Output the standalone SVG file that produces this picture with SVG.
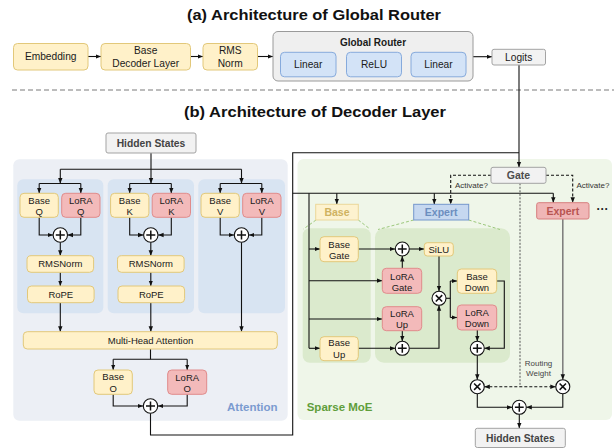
<svg xmlns="http://www.w3.org/2000/svg" width="614" height="448" viewBox="0 0 614 448">
  <defs>
    <marker id="arr" viewBox="0 0 10 10" refX="10" refY="5" markerWidth="5.5" markerHeight="5.5" markerUnits="userSpaceOnUse" orient="auto-start-reverse">
      <path d="M0,1 L10,5 L0,9 z" fill="#111"/>
    </marker>
    <style>
      text { font-family: "Liberation Sans", Arial, sans-serif; fill: #1a1a1a; }
      .t { font-size: 9.5px; text-anchor: middle; }
      .t10 { font-size: 10.2px; text-anchor: middle; }
      .title { font-size: 15px; font-weight: bold; text-anchor: middle; fill: #111; }
      .b { font-weight: bold; }
      .yel { fill: #fff1c9; stroke: #e2c87a; stroke-width: 1; }
      .red { fill: #f3baba; stroke: #e08b8b; stroke-width: 1; }
      .blu { fill: #d3e3f7; stroke: #86aadc; stroke-width: 1; }
      .gry { fill: #f2f2f2; stroke: #a3a3a3; stroke-width: 1; }
      .ln { fill: none; stroke: #111; stroke-width: 1.1; }
      .la { fill: none; stroke: #111; stroke-width: 1.1; marker-end: url(#arr); }
      .dash { fill: none; stroke: #111; stroke-width: 1.1; stroke-dasharray: 3 2; }
      .gdash { fill: none; stroke: #9cc87c; stroke-width: 1; stroke-dasharray: 3 2; }
      .op { fill: #fff; stroke: #111; stroke-width: 1.1; }
      .sym { stroke: #111; stroke-width: 1.5; fill: none; }
    </style>
  </defs>

  <!-- Section titles and separator -->
  <text class="title" x="314" y="19.5" textLength="254" lengthAdjust="spacingAndGlyphs">(a) Architecture of Global Router</text>
  <text class="title" x="315" y="117" textLength="262" lengthAdjust="spacingAndGlyphs">(b) Architecture of Decoder Layer</text>
  <line x1="12" y1="90" x2="614" y2="90" stroke="#a6a6a6" stroke-width="1.5" stroke-dasharray="5 3"/>

  <!-- Backdrop panels -->
  <g id="attention-panel">
    <rect x="13.3" y="159.3" width="274.4" height="261.4" rx="6" fill="#eceff5"/>
    <rect x="17.3" y="179.3" width="86" height="134" rx="6" fill="#d8e4f2"/>
    <rect x="107.7" y="179.3" width="86.3" height="134" rx="6" fill="#d8e4f2"/>
    <rect x="198.3" y="179.3" width="86.7" height="134" rx="6" fill="#d8e4f2"/>
    <text x="277.5" y="411" font-size="11.5" font-weight="bold" text-anchor="end" style="fill:#7b9bd0">Attention</text>
  </g>
  <g id="moe-panel">
    <rect x="297.5" y="159" width="314.5" height="261" rx="6" fill="#eff6e9"/>
    <rect x="302.7" y="228.3" width="68" height="134.4" rx="7" fill="#dbeacd"/>
    <rect x="375" y="228.3" width="135" height="134.4" rx="9" fill="#dbeacd"/>
    <line class="gdash" x1="316" y1="220" x2="303.5" y2="229"/>
    <line class="gdash" x1="358.3" y1="220" x2="370" y2="229"/>
    <line class="gdash" x1="413.7" y1="220" x2="378" y2="229.5"/>
    <line class="gdash" x1="468.7" y1="220" x2="500" y2="229.5"/>
    <text x="306.7" y="410.7" font-size="11.5" font-weight="bold" style="fill:#5f9e3b">Sparse MoE</text>
  </g>

  <!-- Connectors -->
  <g id="connectors">
    <!-- global router row -->
    <line class="la" x1="88" y1="56.5" x2="101" y2="56.5"/>
    <line class="la" x1="190.5" y1="56.5" x2="203" y2="56.5"/>
    <line class="la" x1="257.5" y1="56.5" x2="273" y2="56.5"/>
    <line class="la" x1="336" y1="64.5" x2="346.5" y2="64.5"/>
    <line class="la" x1="401.5" y1="64.5" x2="411" y2="64.5"/>
    <line class="la" x1="473" y1="56.7" x2="492" y2="56.7"/>
    <line class="la" x1="519" y1="65" x2="519" y2="167.3"/>

    <!-- hidden states fan-out -->
    <line class="ln" x1="151" y1="153" x2="151" y2="169.3"/>
    <line class="ln" x1="60.3" y1="169.3" x2="241.5" y2="169.3"/>
    <line class="la" x1="60.3" y1="169.3" x2="60.3" y2="183.5"/>
    <line class="la" x1="151" y1="169.3" x2="151" y2="183.5"/>
    <line class="la" x1="241.5" y1="169.3" x2="241.5" y2="183.5"/>

    <!-- Q column -->
    <path class="ln" d="M39.2,183.5 H80.8"/>
    <line class="la" x1="39.2" y1="183.5" x2="39.2" y2="193.3"/>
    <line class="la" x1="80.8" y1="183.5" x2="80.8" y2="193.3"/>
    <path class="la" d="M39.2,217.3 V235 H53"/>
    <path class="la" d="M80.8,217.3 V235 H67.6"/>
    <line class="la" x1="60.3" y1="242.3" x2="60.3" y2="255.7"/>
    <line class="la" x1="60.3" y1="272.3" x2="60.3" y2="286"/>
    <line class="la" x1="60.3" y1="302.7" x2="60.3" y2="331.7"/>
    <!-- K column -->
    <path class="ln" d="M129.7,183.5 H171.3"/>
    <line class="la" x1="129.7" y1="183.5" x2="129.7" y2="193.3"/>
    <line class="la" x1="171.3" y1="183.5" x2="171.3" y2="193.3"/>
    <path class="la" d="M129.7,217.3 V235 H143.5"/>
    <path class="la" d="M171.3,217.3 V235 H158.1"/>
    <line class="la" x1="150.8" y1="242.3" x2="150.8" y2="255.7"/>
    <line class="la" x1="150.8" y1="272.3" x2="150.8" y2="286"/>
    <line class="la" x1="150.8" y1="302.7" x2="150.8" y2="331.7"/>
    <!-- V column -->
    <path class="ln" d="M220.2,183.5 H261.8"/>
    <line class="la" x1="220.2" y1="183.5" x2="220.2" y2="193.3"/>
    <line class="la" x1="261.8" y1="183.5" x2="261.8" y2="193.3"/>
    <path class="la" d="M220.2,217.3 V235 H234.2"/>
    <path class="la" d="M261.8,217.3 V235 H248.8"/>
    <line class="la" x1="241.5" y1="242.3" x2="241.5" y2="331.7"/>

    <!-- output projection -->
    <line class="ln" x1="150.5" y1="349" x2="150.5" y2="359.3"/>
    <line class="ln" x1="113.2" y1="359.3" x2="187.2" y2="359.3"/>
    <line class="la" x1="113.2" y1="359.3" x2="113.2" y2="370"/>
    <line class="la" x1="187.2" y1="359.3" x2="187.2" y2="370"/>
    <path class="la" d="M113.2,394.3 V406 H143.2"/>
    <path class="la" d="M187.2,394.3 V406 H157.8"/>
    <path class="ln" d="M150.5,413.3 V435 H292.7 V152.7 H519"/>

    <!-- expert dispatch -->
    <line class="ln" x1="292.7" y1="193.3" x2="553.3" y2="193.3"/>
    <line class="la" x1="336.8" y1="193.3" x2="336.8" y2="204.3"/>
    <line class="la" x1="434.3" y1="193.3" x2="434.3" y2="204.3"/>
    <line class="la" x1="553.3" y1="193.3" x2="553.3" y2="202.7"/>
    <path class="dash" d="M491,175.3 H450.7 V204.3" marker-end="url(#arr)"/>
    <path class="dash" d="M546,175.3 H572.7 V202.7" marker-end="url(#arr)"/>

    <!-- base branch inputs -->
    <line class="ln" x1="309" y1="193.3" x2="309" y2="348.3"/>
    <line class="la" x1="309" y1="249" x2="320" y2="249"/>
    <line class="la" x1="309" y1="280.7" x2="382.3" y2="280.7"/>
    <line class="la" x1="309" y1="319" x2="382.3" y2="319"/>
    <line class="la" x1="309" y1="348.3" x2="320" y2="348.3"/>

    <!-- expert internals -->
    <line class="la" x1="358.3" y1="249" x2="395.3" y2="249"/>
    <line class="la" x1="402.3" y1="268.3" x2="402.3" y2="256"/>
    <line class="la" x1="409.3" y1="249" x2="424.3" y2="249"/>
    <line class="la" x1="439" y1="256" x2="439" y2="291.3"/>
    <line class="la" x1="358.3" y1="348.3" x2="395.3" y2="348.3"/>
    <line class="la" x1="402.3" y1="330.7" x2="402.3" y2="341.3"/>
    <path class="la" d="M409.3,348.3 H439 V305.3"/>
    <path class="ln" d="M446,298.3 H450.3"/>
    <line class="ln" x1="450.3" y1="281" x2="450.3" y2="317.5"/>
    <line class="la" x1="450.3" y1="281" x2="457.3" y2="281"/>
    <line class="la" x1="450.3" y1="317.5" x2="457.3" y2="317.5"/>
    <path class="la" d="M496.7,281 H504.3 V348.3 H484.3"/>
    <line class="la" x1="477.3" y1="330" x2="477.3" y2="341.3"/>

    <!-- weighting and merge -->
    <line class="la" x1="477.3" y1="355.3" x2="477.3" y2="379.7"/>
    <line x1="562.8" y1="219" x2="562.8" y2="379.7" stroke="#7a7a7a" stroke-width="1.5" marker-end="url(#arr)"/>
    <line x1="520" y1="183.3" x2="520" y2="386.7" stroke="#555" stroke-width="1" stroke-dasharray="2 1.5"/>
    <line class="dash" x1="484.3" y1="386.7" x2="555.8" y2="386.7" marker-start="url(#arr)" marker-end="url(#arr)"/>
    <path class="la" d="M477.3,393.7 V407.3 H512.3"/>
    <path class="la" d="M562.8,393.7 V407.3 H526.3"/>
    <line class="la" x1="519.3" y1="414.3" x2="519.3" y2="428.3"/>
  </g>

  <!-- Global router row -->
  <g id="embedding"><rect class="yel" x="13.5" y="43.5" width="74.5" height="26.5" rx="4"/><text class="t10" x="50.7" y="60.3">Embedding</text></g>
  <g id="base-decoder-layer"><rect class="yel" x="101" y="43.5" width="89.5" height="26.5" rx="4"/><text class="t10" x="145.7" y="53.5">Base</text><text class="t10" x="145.7" y="66.5">Decoder Layer</text></g>
  <g id="rms-norm"><rect class="yel" x="203" y="43.5" width="54.5" height="26.5" rx="4"/><text class="t10" x="230.2" y="53.5">RMS</text><text class="t10" x="230.2" y="66.5">Norm</text></g>
  <g id="global-router">
    <rect x="273" y="31.5" width="200" height="49.5" rx="5" fill="#efefef" stroke="#9a9a9a" stroke-width="1"/>
    <text x="373" y="46" font-size="10" font-weight="bold" text-anchor="middle">Global Router</text>
  </g>
  <g id="linear-1"><rect class="blu" x="280.5" y="52.3" width="55.5" height="24.5" rx="4"/><text class="t10" x="308.2" y="68">Linear</text></g>
  <g id="relu"><rect class="blu" x="346.5" y="52.3" width="55" height="24.5" rx="4"/><text class="t10" x="374" y="68">ReLU</text></g>
  <g id="linear-2"><rect class="blu" x="411" y="52.3" width="55" height="24.5" rx="4"/><text class="t10" x="438.5" y="68">Linear</text></g>
  <g id="logits"><rect class="gry" x="492" y="49.3" width="53.5" height="15.7" rx="2"/><text class="t10" x="518.7" y="60.8">Logits</text></g>

  <!-- Attention block -->
  <g id="hidden-states-in"><rect class="gry" x="106" y="133" width="90" height="20" rx="2"/><text x="151" y="146.8" font-size="10.3" font-weight="bold" text-anchor="middle" style="fill:#444">Hidden States</text></g>

  <g id="base-q"><rect class="yel" x="20" y="193.3" width="38.3" height="24" rx="4"/><text class="t" x="39.2" y="203.5">Base</text><text class="t" x="39.2" y="214.5">Q</text></g>
  <g id="lora-q"><rect class="red" x="61.7" y="193.3" width="38.3" height="24" rx="4"/><text class="t" x="80.8" y="203.5">LoRA</text><text class="t" x="80.8" y="214.5">Q</text></g>
  <g id="base-k"><rect class="yel" x="110.6" y="193.3" width="38.3" height="24" rx="4"/><text class="t" x="129.7" y="203.5">Base</text><text class="t" x="129.7" y="214.5">K</text></g>
  <g id="lora-k"><rect class="red" x="152.2" y="193.3" width="38.3" height="24" rx="4"/><text class="t" x="171.3" y="203.5">LoRA</text><text class="t" x="171.3" y="214.5">K</text></g>
  <g id="base-v"><rect class="yel" x="201" y="193.3" width="38.3" height="24" rx="4"/><text class="t" x="220.2" y="203.5">Base</text><text class="t" x="220.2" y="214.5">V</text></g>
  <g id="lora-v"><rect class="red" x="242.7" y="193.3" width="38.3" height="24" rx="4"/><text class="t" x="261.8" y="203.5">LoRA</text><text class="t" x="261.8" y="214.5">V</text></g>

  <g id="add-q"><circle class="op" cx="60.3" cy="235" r="7.2"/><path class="sym" d="M55.8,235 H64.8 M60.3,230.5 V239.5"/></g>
  <g id="add-k"><circle class="op" cx="150.8" cy="235" r="7.2"/><path class="sym" d="M146.3,235 H155.3 M150.8,230.5 V239.5"/></g>
  <g id="add-v"><circle class="op" cx="241.5" cy="235" r="7.2"/><path class="sym" d="M237,235 H246 M241.5,230.5 V239.5"/></g>

  <g id="rmsnorm-q"><rect class="yel" x="27" y="255.7" width="66.6" height="16.6" rx="4"/><text class="t" x="60.3" y="267.3">RMSNorm</text></g>
  <g id="rmsnorm-k"><rect class="yel" x="117.5" y="255.7" width="66.6" height="16.6" rx="4"/><text class="t" x="150.8" y="267.3">RMSNorm</text></g>
  <g id="rope-q"><rect class="yel" x="27.5" y="286" width="66.6" height="16.7" rx="4"/><text class="t" x="60.8" y="297.7">RoPE</text></g>
  <g id="rope-k"><rect class="yel" x="118" y="286" width="66.6" height="16.7" rx="4"/><text class="t" x="151.3" y="297.7">RoPE</text></g>

  <g id="multi-head-attention"><rect class="yel" x="23.3" y="331.7" width="254" height="17.3" rx="4"/><text class="t" x="150.5" y="343.6">Multi-Head Attention</text></g>
  <g id="base-o"><rect class="yel" x="94" y="370" width="38.3" height="24.3" rx="4"/><text class="t" x="113.2" y="380">Base</text><text class="t" x="113.2" y="391.8">O</text></g>
  <g id="lora-o"><rect class="red" x="167.7" y="370" width="39" height="24.3" rx="4"/><text class="t" x="187.2" y="380.5">LoRA</text><text class="t" x="187.2" y="392">O</text></g>
  <g id="add-o"><circle class="op" cx="150.5" cy="406" r="7.2"/><path class="sym" d="M146,406 H155 M150.5,401.5 V410.5"/></g>

  <!-- Sparse MoE block -->
  <g id="gate"><rect class="gry" x="491" y="167.3" width="55" height="16" rx="2"/><text x="518.5" y="179.2" font-size="10.5" font-weight="bold" text-anchor="middle" style="fill:#4d4d4d">Gate</text></g>
  <text x="455" y="188" font-size="8" style="fill:#333">Activate?</text>
  <text x="576.5" y="188" font-size="8" style="fill:#333">Activate?</text>

  <g id="base-label"><rect x="315.7" y="204.3" width="42.6" height="15.7" fill="#fdf2cf" stroke="#ebd79a" stroke-width="1"/><text x="337" y="215.8" font-size="10.5" font-weight="bold" text-anchor="middle" style="fill:#cfb261">Base</text></g>
  <g id="expert-blue"><rect x="413.7" y="204.3" width="55" height="15.7" fill="#c6d8f0" stroke="#7497cc" stroke-width="1"/><text x="441.2" y="215.8" font-size="10.5" font-weight="bold" text-anchor="middle" style="fill:#6c8ebf">Expert</text></g>
  <g id="expert-red"><rect x="536.7" y="202.7" width="52.3" height="16.3" rx="2" fill="#f0b6b6" stroke="#d77e7e" stroke-width="1"/><text x="562.8" y="214.6" font-size="10.5" font-weight="bold" text-anchor="middle" style="fill:#b85450">Expert</text></g>
  <text x="602.5" y="213" font-size="12" font-weight="bold" text-anchor="middle" style="fill:#222">···</text>

  <g id="base-gate"><rect class="yel" x="320" y="236.7" width="38.3" height="25" rx="4"/><text class="t" x="339.2" y="247.5">Base</text><text class="t" x="339.2" y="258.8">Gate</text></g>
  <g id="base-up"><rect class="yel" x="320" y="336.7" width="38.3" height="24" rx="4"/><text class="t" x="339.2" y="346">Base</text><text class="t" x="339.2" y="358">Up</text></g>
  <g id="lora-gate"><rect class="red" x="382.3" y="268.3" width="39.4" height="25" rx="4"/><text class="t" x="402" y="279.5">LoRA</text><text class="t" x="402" y="290.5">Gate</text></g>
  <g id="lora-up"><rect class="red" x="382.3" y="306.7" width="39.4" height="24" rx="4"/><text class="t" x="402" y="316.8">LoRA</text><text class="t" x="402" y="328.3">Up</text></g>
  <g id="add-gate"><circle class="op" cx="402.3" cy="249" r="7"/><path class="sym" d="M397.9,249 H406.7 M402.3,244.6 V253.4"/></g>
  <g id="silu"><rect class="yel" x="424.3" y="242.7" width="29" height="13.3" rx="3"/><text class="t" x="438.8" y="252.8">SiLU</text></g>
  <g id="mul-act"><circle class="op" cx="439" cy="298.3" r="7"/><path class="sym" d="M435.8,295.1 L442.2,301.5 M442.2,295.1 L435.8,301.5"/></g>
  <g id="add-up"><circle class="op" cx="402.3" cy="348.3" r="7"/><path class="sym" d="M397.9,348.3 H406.7 M402.3,343.9 V352.7"/></g>
  <g id="base-down"><rect class="yel" x="457.3" y="269" width="39.4" height="24.3" rx="4"/><text class="t" x="477" y="279.5">Base</text><text class="t" x="477" y="290.5">Down</text></g>
  <g id="lora-down"><rect class="red" x="457.3" y="305" width="39.4" height="25" rx="4"/><text class="t" x="477" y="316">LoRA</text><text class="t" x="477" y="327">Down</text></g>
  <g id="add-down"><circle class="op" cx="477.3" cy="348.3" r="7"/><path class="sym" d="M472.9,348.3 H481.7 M477.3,343.9 V352.7"/></g>

  <g id="mul-left"><circle class="op" cx="477.3" cy="386.7" r="7"/><path class="sym" d="M474.1,383.5 L480.5,389.9 M480.5,383.5 L474.1,389.9"/></g>
  <g id="mul-right"><circle class="op" cx="562.8" cy="386.7" r="7"/><path class="sym" d="M559.6,383.5 L566,389.9 M566,383.5 L559.6,389.9"/></g>
  <text x="538.5" y="366" font-size="8" text-anchor="middle" style="fill:#444">Routing</text>
  <text x="538.5" y="375.5" font-size="8" text-anchor="middle" style="fill:#444">Weight</text>
  <g id="add-final"><circle class="op" cx="519.3" cy="407.3" r="7"/><path class="sym" d="M514.9,407.3 H523.7 M519.3,402.9 V411.7"/></g>

  <g id="hidden-states-out"><rect class="gry" x="475.3" y="428.3" width="90" height="19.2" rx="2"/><text x="520.3" y="442" font-size="10.3" font-weight="bold" text-anchor="middle" style="fill:#444">Hidden States</text></g>
</svg>
